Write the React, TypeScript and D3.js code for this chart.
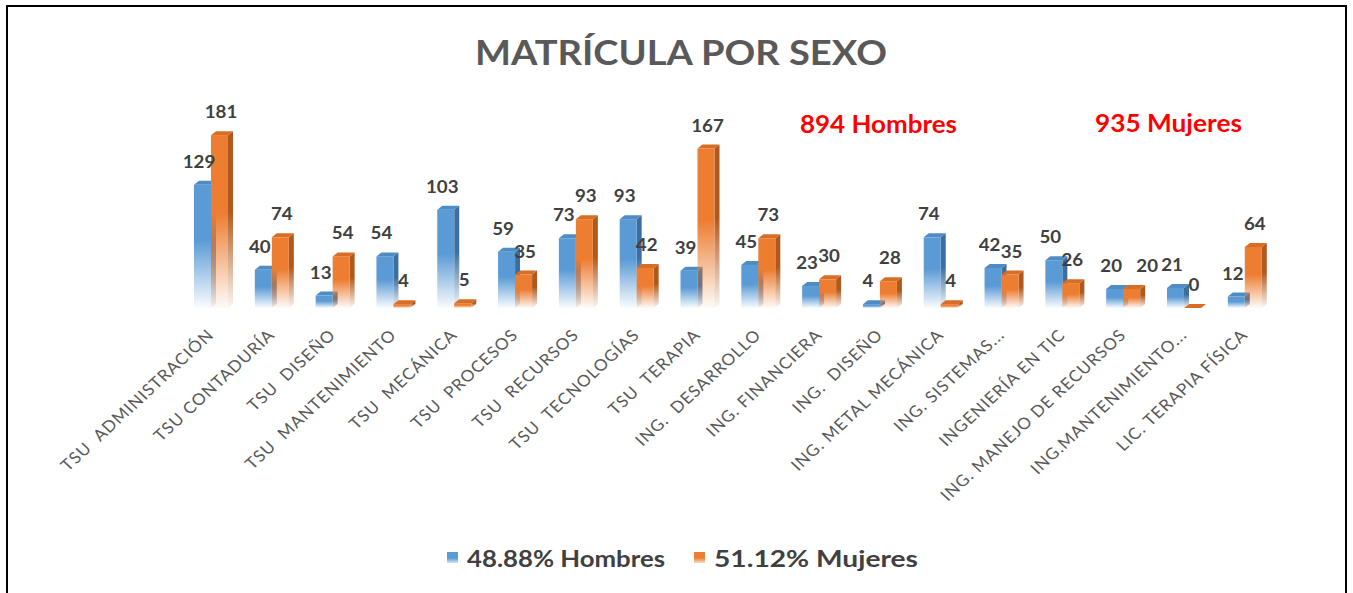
import { useMemo } from 'react';
import * as d3 from 'd3';

const categories = [
  'TSU  ADMINISTRACIÓN',
  'TSU CONTADURÍA',
  'TSU  DISEÑO',
  'TSU  MANTENIMIENTO',
  'TSU  MECÁNICA',
  'TSU  PROCESOS',
  'TSU  RECURSOS',
  'TSU  TECNOLOGÍAS',
  'TSU  TERAPIA',
  'ING.  DESARROLLO',
  'ING. FINANCIERA',
  'ING.  DISEÑO',
  'ING. METAL MECÁNICA',
  'ING. SISTEMAS...',
  'INGENIERÍA EN TIC',
  'ING. MANEJO DE RECURSOS',
  'ING.MANTENIMIENTO...',
  'LIC. TERAPIA FÍSICA',
];
const hombres = [129, 40, 13, 54, 103, 59, 73, 93, 39, 45, 23, 4, 74, 42, 50, 20, 21, 12];
const mujeres = [181, 74, 54, 4, 5, 35, 93, 42, 167, 73, 30, 28, 4, 35, 26, 20, 0, 64];
const seriesNames = ['48.88% Hombres', '51.12% Mujeres'];
const title = 'MATRÍCULA POR SEXO';
const notes = ['894 Hombres', '935 Mujeres'];

const W = 1353;
const H = 593;
const BASE = 308;
const BAR_W = 17;
const DX = 5;
const DY = 4;

const palette = [
  { front: '#5B9BD5', side: '#3C6E9E', top: '#4F8CC4' },
  { front: '#ED7D31', side: '#B0591E', top: '#D86E26' },
];

function Bar3D({ x0, yTop, i }: { x0: number; yTop: number; i: number }) {
  const x1 = x0 + BAR_W;
  const side = `${x1},${yTop} ${x1 + DX},${yTop - DY} ${x1 + DX},${BASE - DY} ${x1},${BASE}`;
  const top = `${x0},${yTop} ${x0 + DX},${yTop - DY} ${x1 + DX},${yTop - DY} ${x1},${yTop}`;
  return (
    <g>
      <polygon points={side} fill={`url(#side${i})`} />
      {BASE - yTop > 0 && (
        <rect x={x0} y={yTop} width={BAR_W} height={BASE - yTop} fill={`url(#front${i})`} />
      )}
      <polygon points={top} fill={palette[i].top} />
    </g>
  );
}

export default function App() {
  const x = useMemo(
    () => d3.scaleBand().domain(categories).range([180.6, 1275.2]).paddingInner(0).paddingOuter(0),
    []
  );
  const sub = useMemo(() => d3.scaleBand().domain(['0', '1']).range([-BAR_W, BAR_W]), []);
  const y = useMemo(() => d3.scaleLinear().domain([0, 200]).range([BASE, BASE - 200 * 0.955]), []);
  const series = [hombres, mujeres];
  const labelDx = [-3.5, 1.5];

  return (
    <svg
      width={W}
      height={H}
      style={{ position: 'absolute', left: 0, top: 0, background: '#fff' }}
      fontFamily="Lato, 'Open Sans', sans-serif"
    >
      <defs>
        {palette.map((p, i) => (
          <g key={i}>
            <linearGradient id={`front${i}`} x1="0" y1="0" x2="0" y2="1">
              <stop offset="0" stopColor={p.front} />
              <stop offset="0.45" stopColor={p.front} />
              <stop offset="1" stopColor={p.front} stopOpacity="0.03" />
            </linearGradient>
            <linearGradient id={`side${i}`} x1="0" y1="0" x2="0" y2="1">
              <stop offset="0" stopColor={p.side} />
              <stop offset="0.45" stopColor={p.side} />
              <stop offset="1" stopColor={p.side} stopOpacity="0.05" />
            </linearGradient>
            <linearGradient id={`legend${i}`} x1="0" y1="0" x2="0" y2="1">
              <stop offset="0" stopColor={p.front} />
              <stop offset="0.55" stopColor={p.front} />
              <stop offset="1" stopColor={p.front} stopOpacity="0.25" />
            </linearGradient>
          </g>
        ))}
      </defs>

      <rect x={7} y={6} width={1339} height={620} fill="#fff" stroke="#000" strokeWidth={2} />

      <text
        x={681}
        y={65}
        textAnchor="middle"
        fontSize={35}
        fontWeight={700}
        fill="#595959"
        textLength={412}
        lengthAdjust="spacingAndGlyphs"
      >
        {title}
      </text>

      <text x={800} y={133} fontSize={25} fontWeight={700} fill="#FF0000" textLength={157} lengthAdjust="spacingAndGlyphs">
        {notes[0]}
      </text>
      <text x={1095} y={132} fontSize={25} fontWeight={700} fill="#FF0000" textLength={147} lengthAdjust="spacingAndGlyphs">
        {notes[1]}
      </text>

      {/* bars */}
      {categories.map((c, ci) => {
        const cx = (x(c) ?? 0) + x.bandwidth() / 2;
        return (
          <g key={c}>
            {series.map((vals, si) => (
              <Bar3D key={si} x0={cx + (sub(String(si)) ?? 0)} yTop={y(vals[ci])} i={si} />
            ))}
          </g>
        );
      })}

      {/* value labels */}
      {categories.map((c, ci) => {
        const cx = (x(c) ?? 0) + x.bandwidth() / 2;
        // push the second label aside when both sit at the same height
        const clash = Math.abs(y(hombres[ci]) - y(mujeres[ci])) < 5;
        return series.map((vals, si) => {
          const bx = cx + (sub(String(si)) ?? 0) + BAR_W / 2 + labelDx[si] + (clash && si === 1 ? 14 : 0);
          return (
            <text
              key={c + si}
              transform={`translate(${bx},${y(vals[ci]) - 17}) scale(1.1,1)`}
              textAnchor="middle"
              fontSize={17}
              fontWeight={700}
              fill="#404040"
            >
              {vals[ci]}
            </text>
          );
        });
      })}

      {/* category axis labels */}
      {categories.map((c) => {
        const cx = (x(c) ?? 0) + x.bandwidth() / 2;
        return (
          <text
            key={c}
            transform={`translate(${cx + 4},${336}) scale(1.08,1) rotate(-45)`}
            textAnchor="end"
            fontSize={16}
            letterSpacing={0.9}
            fill="#595959"
            style={{ whiteSpace: 'pre' }}
          >
            {c}
          </text>
        );
      })}

      {/* legend */}
      {seriesNames.map((s, i) => {
        const lx = [447, 694][i];
        return (
          <g key={s}>
            <rect x={lx} y={552} width={11} height={11} fill={`url(#legend${i})`} />
            <text
              x={lx + 20}
              y={567}
              fontSize={22}
              fontWeight={700}
              fill="#404040"
              textLength={[198, 204][i]}
              lengthAdjust="spacingAndGlyphs"
            >
              {s}
            </text>
          </g>
        );
      })}
    </svg>
  );
}
